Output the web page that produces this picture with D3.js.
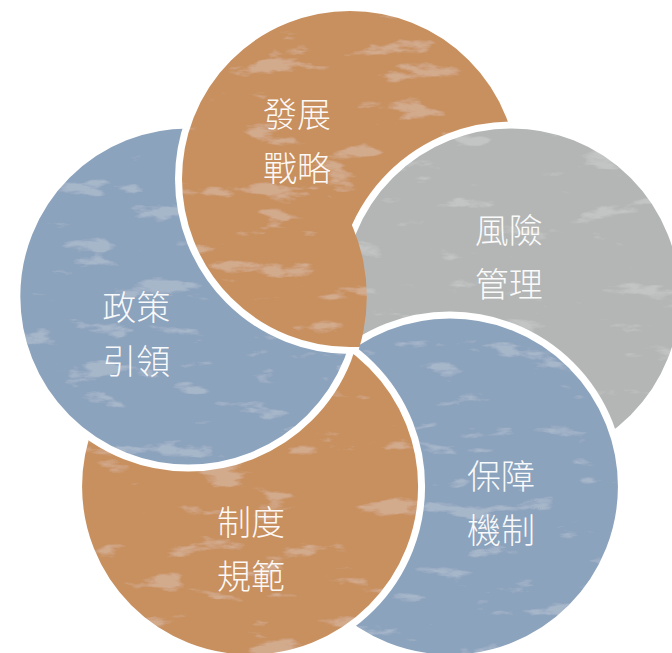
<!DOCTYPE html>
<html>
<head>
<meta charset="utf-8">
<script src="https://cdn.jsdelivr.net/npm/d3@7/dist/d3.min.js"></script>
<style>
  html, body { margin: 0; padding: 0; background: #ffffff; }
  svg { display: block; }
</style>
</head>
<body>
<svg id="chart" width="672" height="653"></svg>
<script>
// ---- data ----
const categories = ["發展戰略", "風險管理", "保障機制", "制度規範", "政策引領"];
const line1 = ["發展", "風險", "保障", "制度", "政策"];
const line2 = ["戰略", "管理", "機制", "規範", "引領"];
const fills = ["#C8905F", "#B4B6B6", "#8CA3BD", "#C8905F", "#8CA3BD"];

// ---- layout ----
const W = 672, H = 653;
const center = { x: 350, y: 349 };
const orbit = 170;        // distance of circle centres from pinwheel centre
const radius = 171.5;     // circle radius (stroke centred on it)
const strokeW = 7;
const labelOffsets = [[-53, -39.5], [-3, -40.5], [51, 14.5], [1, 61], [-52, 36.5]];
const lineGap = 54;

const angle = d3.scaleLinear().domain([0, categories.length]).range([-90, 270]);
const nodes = categories.map((c, i) => {
  const a = angle(i) * Math.PI / 180;
  return {
    name: c, i,
    x: center.x + orbit * Math.cos(a),
    y: center.y + orbit * Math.sin(a),
    fill: fills[i]
  };
});

const svg = d3.select("#chart");
const defs = svg.append("defs");

// marble-like texture filter
const seeds = [3, 7, 11, 19, 23];
seeds.forEach((s, i) => {
  const f = defs.append("filter").attr("id", "marble" + i)
    .attr("x", "-5%").attr("y", "-5%").attr("width", "110%").attr("height", "110%");
  f.append("feTurbulence").attr("type", "fractalNoise")
    .attr("baseFrequency", "0.016 0.05").attr("numOctaves", 5).attr("seed", s).attr("result", "noise");
  f.append("feColorMatrix").attr("in", "noise").attr("type", "matrix")
    .attr("values", "0 0 0 0 1  0 0 0 0 1  0 0 0 0 1  9 0 0 0 -5.6").attr("result", "spots");
  const ct = f.append("feComponentTransfer").attr("in", "spots").attr("result", "spotsA");
  ct.append("feFuncA").attr("type", "linear").attr("slope", 0.17).attr("intercept", 0);
  f.append("feComposite").attr("in", "spotsA").attr("in2", "SourceGraphic").attr("operator", "in").attr("result", "clipped");
  const m = f.append("feMerge");
  m.append("feMergeNode").attr("in", "SourceGraphic");
  m.append("feMergeNode").attr("in", "clipped");
});

// clip for redrawing the first circle over the last one (cyclic overlap)
const last = nodes[nodes.length - 1];
defs.append("clipPath").attr("id", "clipLast")
  .append("circle").attr("cx", last.x).attr("cy", last.y).attr("r", radius + strokeW);

const g = svg.append("g");

g.selectAll("circle.node")
  .data(nodes)
  .join("circle")
  .attr("class", "node")
  .attr("cx", d => d.x)
  .attr("cy", d => d.y)
  .attr("r", radius)
  .attr("fill", d => d.fill)
  .attr("stroke", "#ffffff")
  .attr("stroke-width", strokeW)
  .attr("filter", d => `url(#marble${d.i})`);

// first circle re-drawn on top of the last one, only inside last one's disk
const first = nodes[0];
g.append("g").attr("clip-path", "url(#clipLast)")
  .append("circle")
  .attr("cx", first.x).attr("cy", first.y).attr("r", radius)
  .attr("fill", first.fill)
  .attr("stroke", "#ffffff")
  .attr("stroke-width", strokeW)
  .attr("filter", "url(#marble0)");

// labels
const labels = svg.append("g")
  .attr("font-family", "'Noto Sans CJK TC', 'Noto Sans CJK SC', sans-serif")
  .attr("font-size", 34)
  .attr("font-weight", 300)
  .attr("fill", "#ffffff")
  .attr("fill-opacity", 0.95)
  .attr("text-anchor", "middle");

nodes.forEach((d, i) => {
  const lx = d.x + labelOffsets[i][0];
  const ly = d.y + labelOffsets[i][1];
  labels.append("text").attr("x", lx).attr("y", ly - lineGap / 2)
    .attr("dominant-baseline", "central").text(line1[i]);
  labels.append("text").attr("x", lx).attr("y", ly + lineGap / 2)
    .attr("dominant-baseline", "central").text(line2[i]);
});
</script>
</body>
</html>
